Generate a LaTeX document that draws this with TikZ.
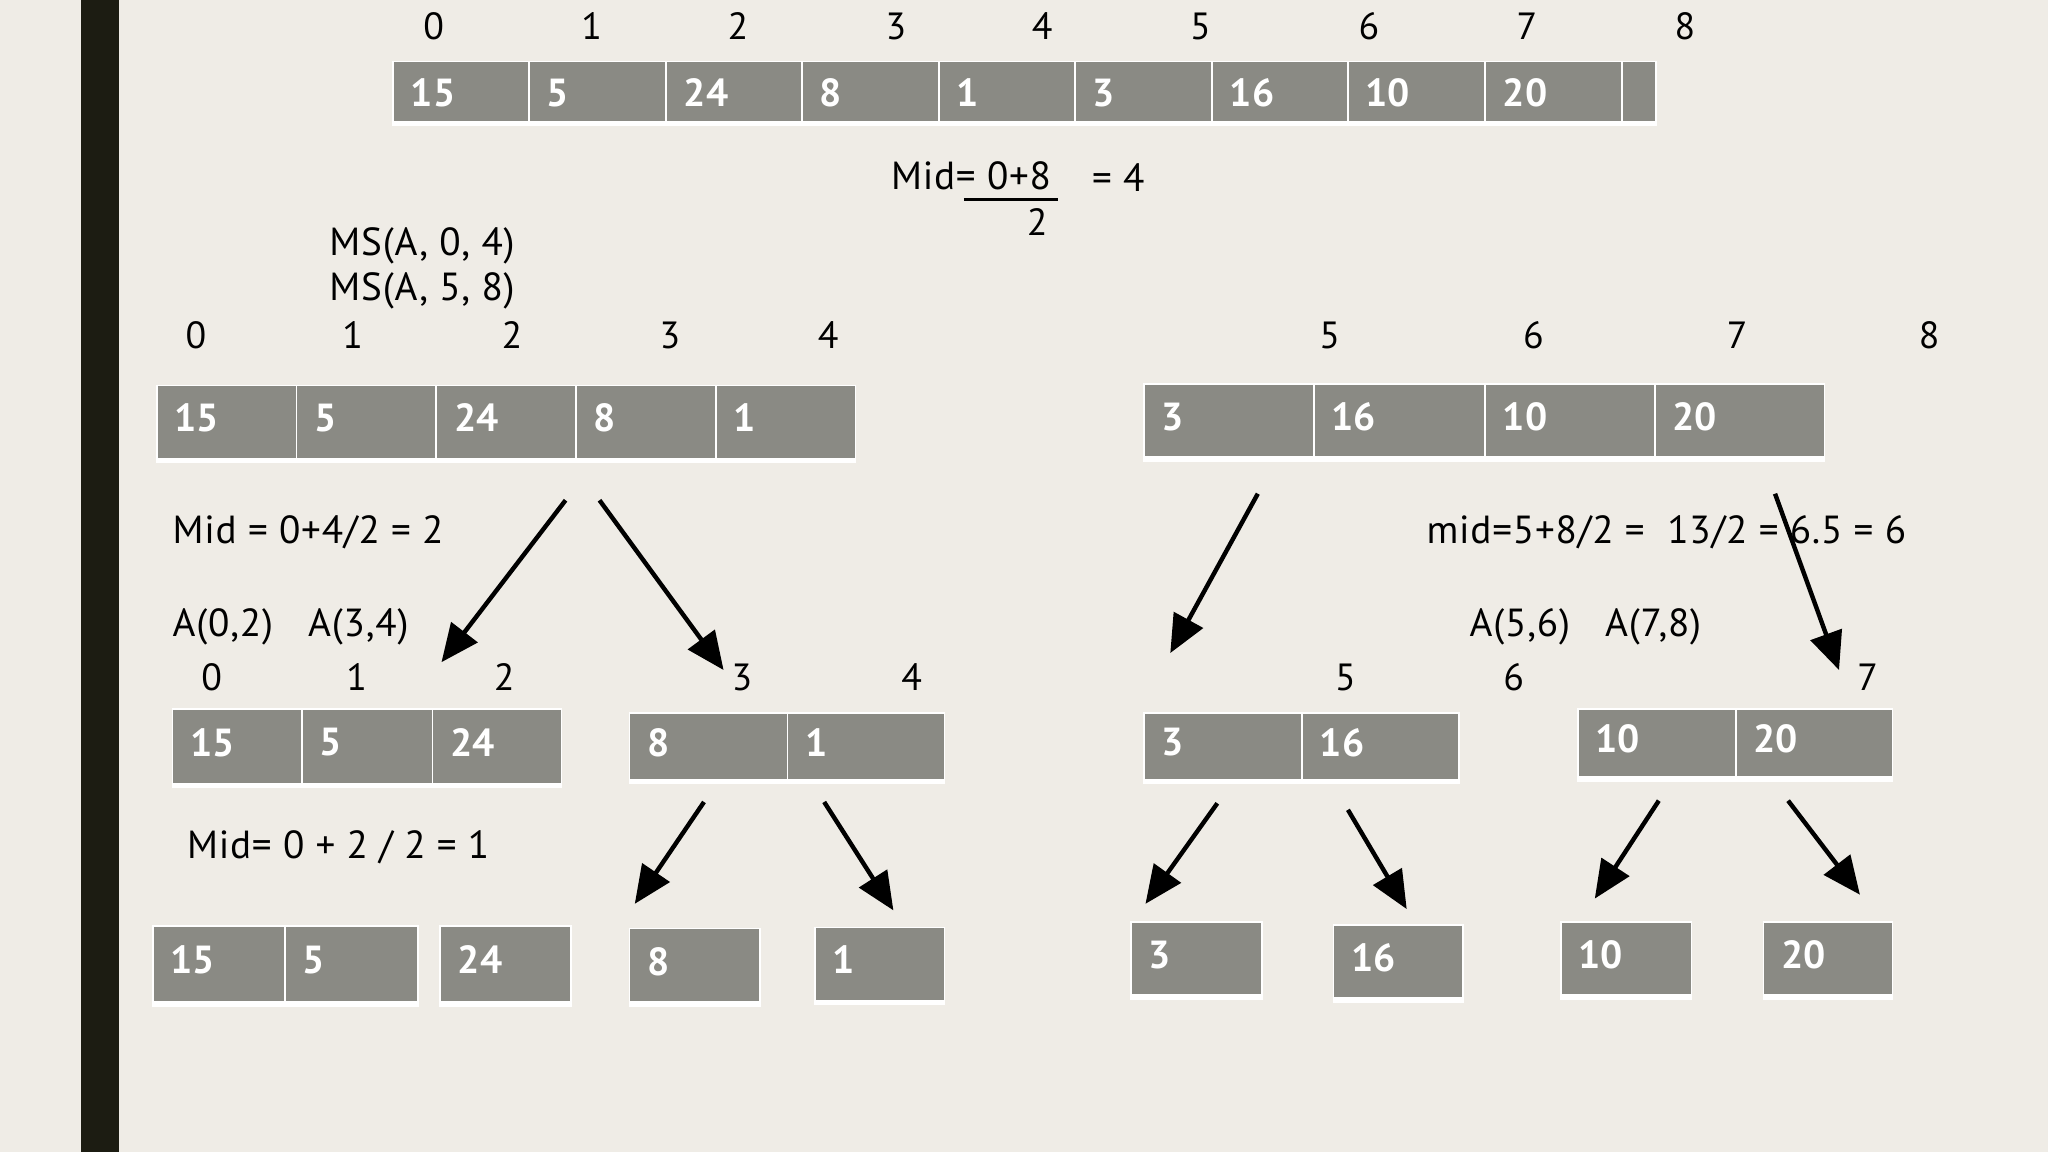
\documentclass[tikz,border=0pt]{standalone}
\usepackage{fontspec}
\setmainfont{PT Sans}
\usetikzlibrary{arrows.meta,fit}
\definecolor{bg}{HTML}{EFECE6}
\definecolor{cellgray}{HTML}{8A8A84}
\definecolor{barc}{HTML}{1C1C12}
\tikzset{
 cellbox/.style={fill=cellgray, draw=white, line width=1.2pt, inner sep=0pt},
 val/.style={text=white, font=\fontsize{30}{34}\selectfont\bfseries, anchor=west, inner sep=0pt},
 idx/.style={font=\fontsize{29}{34}\selectfont, anchor=base, inner sep=0pt},
 txt/.style={font=\fontsize{30}{34}\selectfont\addfontfeature{LetterSpace=2}, anchor=base west, inner sep=0pt},
 arr/.style={line width=3.4pt, -{Triangle[length=29pt,width=25pt]}},
}
\def\cellys{3pt}
\newcommand{\cellat}[6]{\node[cellbox, fit={(#2,#3)(#4,#5)}] (#1) {};
  \node[val] (#1v) at ([xshift=14pt,yshift=\cellys]#1.west) {#6};}
\newcommand{\strip}[2]{\fill[white] (#1.south west) rectangle ([yshift=-3pt]#2.south east);}
\begin{document}
\begin{tikzpicture}[x=1pt,y=-1pt]
\fill[bg] (0,0) rectangle (1568,882);
\useasboundingbox (0,0) rectangle (1568,882);
\fill[barc] (62,0) rectangle (91,882);

% top indices
\node[idx] (ti0) at (332,30) {0};
\node[idx] (ti1) at (453,30) {1};
\node[idx] (ti2) at (565,30) {2};
\node[idx] (ti3) at (686,30) {3};
\node[idx] (ti4) at (798,30) {4};
\node[idx] (ti5) at (919,30) {5};
\node[idx] (ti6) at (1048,30) {6};
\node[idx] (ti7) at (1169,30) {7};
\node[idx] (ti8) at (1290,30) {8};

% top array
\def\cellys{-1pt}
\cellat{ta}{301}{47}{405}{93}{15}
\cellat{tb}{405}{47}{510}{93}{5}
\cellat{tc}{510}{47}{614}{93}{24}
\cellat{td}{614}{47}{719}{93}{8}
\cellat{te}{719}{47}{823}{93}{1}
\cellat{tf}{823}{47}{928}{93}{3}
\cellat{tg}{928}{47}{1032}{93}{16}
\cellat{th}{1032}{47}{1137}{93}{10}
\cellat{ti}{1137}{47}{1242}{93}{20}
\cellat{tj}{1242}{47}{1268}{93}{}
\strip{ta}{tj}
\def\cellys{3pt}

% mid formula
\node[txt] (midtop) at (682,145) {Mid= 0+8};
\draw[line width=2.5pt] (738,153) -- (810,153);
\node[idx] (midden) at (794,180) {2};
\node[txt] (midres) at (836,147) {= 4};

\node[txt] (ms1) at (252,196) {MS(A, 0, 4)};
\node[txt] (ms2) at (252,230) {MS(A, 5, 8)};

% level 1 indices
\node[idx] (li0) at (150,267) {0};
\node[idx] (li1) at (270,267) {1};
\node[idx] (li2) at (392,267) {2};
\node[idx] (li3) at (513,267) {3};
\node[idx] (li4) at (634,267) {4};
\node[idx] (ri5) at (1018,267) {5};
\node[idx] (ri6) at (1174,267) {6};
\node[idx] (ri7) at (1330,267) {7};
\node[idx] (ri8) at (1477,267) {8};

% level 1 arrays
\cellat{la}{120}{295}{227}{351}{15}
\cellat{lb}{227}{295}{334}{351}{5}
\cellat{lc}{334}{295}{441}{351}{24}
\cellat{ld}{441}{295}{548}{351}{8}
\cellat{le}{548}{295}{655}{351}{1}
\strip{la}{le}
\cellat{ra}{876}{294}{1006}{350}{3}
\cellat{rb}{1006}{294}{1137}{350}{16}
\cellat{rc}{1137}{294}{1267}{350}{10}
\cellat{rd}{1267}{294}{1397}{350}{20}
\strip{ra}{rd}

\node[txt] (midl) at (132,416) {Mid = 0+4/2 = 2};
\node[txt] (midr) at (1092,416) {mid=5+8/2 = \ 13/2 = 6.5 = 6};
\node[txt] (al) at (132,487) {A(0,2)\hspace{0.9em}A(3,4)};
\node[txt] (ar) at (1125,487) {A(5,6)\hspace{0.9em}A(7,8)};

% level 2 indices
\node[idx] (mi0) at (162,529) {0};
\node[idx] (mi1) at (273,529) {1};
\node[idx] (mi2) at (386,529) {2};
\node[idx] (mi3) at (568,529) {3};
\node[idx] (mi4) at (698,529) {4};
\node[idx] (mi5) at (1030,529) {5};
\node[idx] (mi6) at (1159,529) {6};
\node[idx] (mi7) at (1430,529) {7};

% level 2 arrays
\cellat{pa}{132}{543}{231}{600}{15}
\cellat{pb}{231}{543}{331}{600}{5}
\cellat{pc}{331}{543}{430}{600}{24}
\strip{pa}{pc}
\cellat{qa}{482}{546}{603}{597}{8}
\cellat{qb}{603}{546}{723}{597}{1}
\strip{qa}{qb}
\cellat{sa}{876}{546}{997}{597}{3}
\cellat{sb}{997}{546}{1117}{597}{16}
\strip{sa}{sb}
\cellat{ua}{1208}{543}{1329}{595}{10}
\cellat{ub}{1329}{543}{1449}{595}{20}
\strip{ua}{ub}

\node[txt] (midp) at (143,657) {Mid= 0 + 2 / 2 = 1};

% level 3 boxes
\cellat{ba}{117}{709}{218}{767}{15}
\cellat{bb}{218}{709}{320}{767}{5}
\strip{ba}{bb}
\cellat{bc}{337}{709}{437}{767}{24}
\strip{bc}{bc}
\cellat{bd}{482}{711}{582}{767}{8}
\strip{bd}{bd}
\cellat{be}{624}{710}{723}{766}{1}
\strip{be}{be}
\cellat{bf}{866}{706}{966}{762}{3}
\strip{bf}{bf}
\cellat{bg}{1021}{708}{1120}{764}{16}
\strip{bg}{bg}
\cellat{bh}{1195}{706}{1295}{762}{10}
\strip{bh}{bh}
\cellat{bi}{1350}{706}{1449}{762}{20}
\strip{bi}{bi}

% arrow coordinates
\coordinate (a1s) at (433,383); \coordinate (a1e) at (338,507);
\coordinate (a2s) at (459,383); \coordinate (a2e) at (554,513);
\coordinate (a3s) at (963,378); \coordinate (a3e) at (896,500);
\coordinate (a4s) at (1359,378); \coordinate (a4e) at (1408,513);
\coordinate (a5s) at (539,614); \coordinate (a5e) at (486,692);
\coordinate (a6s) at (631,614); \coordinate (a6e) at (684,697);
\coordinate (a7s) at (932,615); \coordinate (a7e) at (877,692);
\coordinate (a8s) at (1032,620); \coordinate (a8e) at (1077,696);
\coordinate (a9s) at (1270,613); \coordinate (a9e) at (1221,688);
\coordinate (a10s) at (1369,613); \coordinate (a10e) at (1424,685);
\draw[arr] (a1s) -- (a1e);
\draw[arr] (a2s) -- (a2e);
\draw[arr] (a3s) -- (a3e);
\draw[arr] (a4s) -- (a4e);
\draw[arr] (a5s) -- (a5e);
\draw[arr] (a6s) -- (a6e);
\draw[arr] (a7s) -- (a7e);
\draw[arr] (a8s) -- (a8e);
\draw[arr] (a9s) -- (a9e);
\draw[arr] (a10s) -- (a10e);
\end{tikzpicture}
\end{document}
